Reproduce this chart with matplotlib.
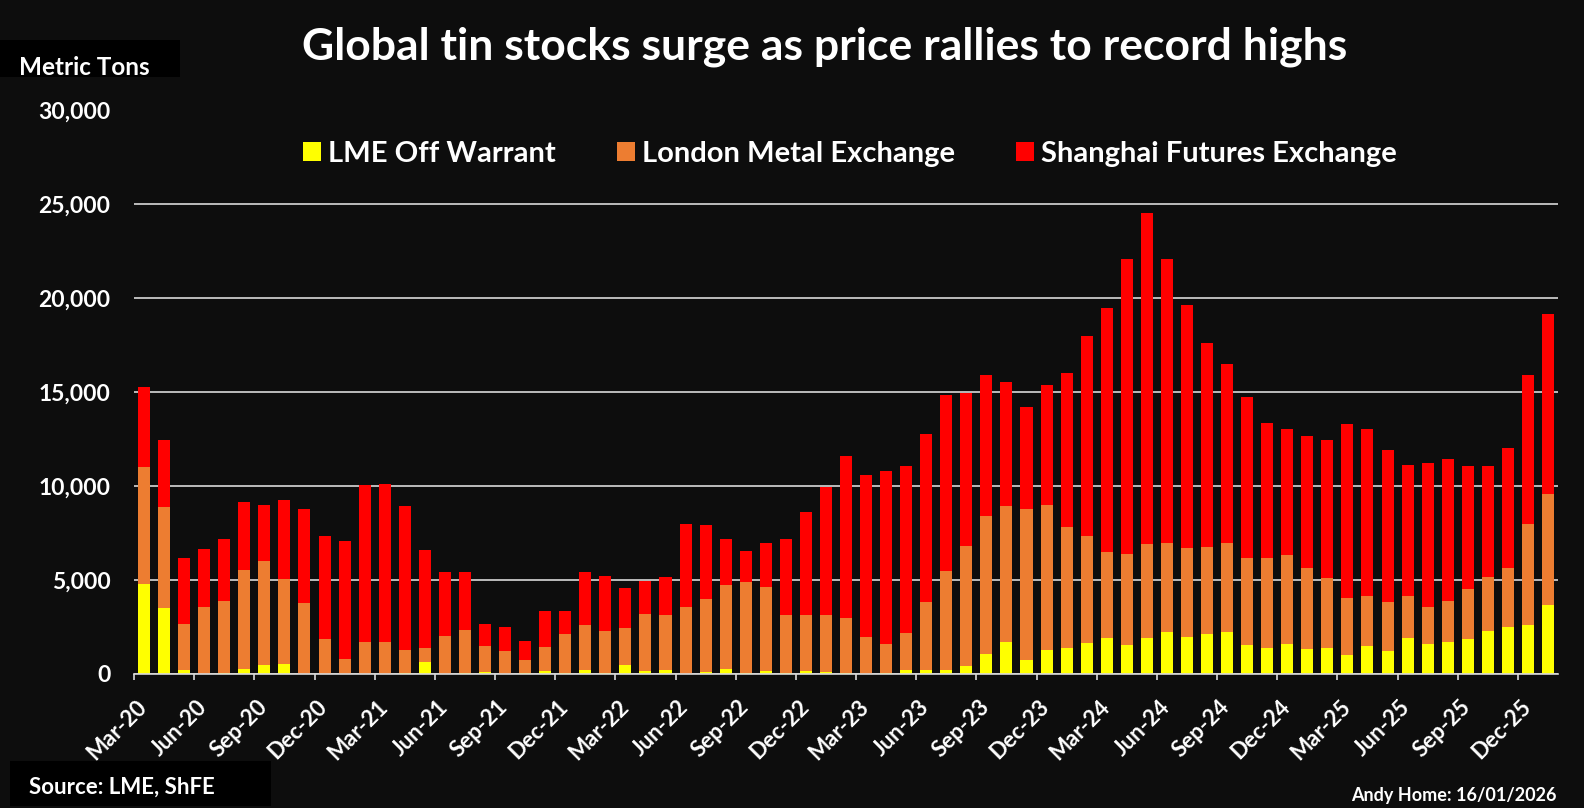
import numpy as np
import matplotlib
matplotlib.use("Agg")
import matplotlib.pyplot as plt
from matplotlib.patches import Rectangle
from matplotlib.ticker import FuncFormatter, FixedLocator

# monthly stocks, metric tons, Mar-20 .. Jan-26
months = ["Mar-20", "Apr-20", "May-20", "Jun-20", "Jul-20", "Aug-20", "Sep-20", "Oct-20", "Nov-20", "Dec-20",
          "Jan-21", "Feb-21", "Mar-21", "Apr-21", "May-21", "Jun-21", "Jul-21", "Aug-21", "Sep-21", "Oct-21",
          "Nov-21", "Dec-21", "Jan-22", "Feb-22", "Mar-22", "Apr-22", "May-22", "Jun-22", "Jul-22", "Aug-22",
          "Sep-22", "Oct-22", "Nov-22", "Dec-22", "Jan-23", "Feb-23", "Mar-23", "Apr-23", "May-23", "Jun-23",
          "Jul-23", "Aug-23", "Sep-23", "Oct-23", "Nov-23", "Dec-23", "Jan-24", "Feb-24", "Mar-24", "Apr-24",
          "May-24", "Jun-24", "Jul-24", "Aug-24", "Sep-24", "Oct-24", "Nov-24", "Dec-24", "Jan-25", "Feb-25",
          "Mar-25", "Apr-25", "May-25", "Jun-25", "Jul-25", "Aug-25", "Sep-25", "Oct-25", "Nov-25", "Dec-25",
          "Jan-26"]

lme_off_warrant = [4800, 3510, 210, 0, 50, 270, 480, 530, 0, 0,
                   0, 0, 0, 50, 640, 0, 50, 100, 0, 50,
                   160, 50, 210, 50, 480, 160, 210, 0, 100, 270,
                   50, 160, 50, 160, 100, 50, 0, 50, 210, 210,
                   210, 430, 1060, 1700, 740, 1280, 1380, 1650, 1910, 1540,
                   1910, 2230, 1970, 2130, 2230, 1540, 1380, 1600, 1330, 1380,
                   1010, 1490, 1220, 1910, 1600, 1700, 1860, 2290, 2500, 2610,
                   3670]

lme = [6200, 5390, 2450, 3560, 3830, 5260, 5530, 4520, 3780, 1860,
       800, 1700, 1700, 1230, 740, 2020, 2290, 1390, 1220, 690,
       1280, 2080, 2400, 2240, 1970, 3030, 2930, 3560, 3890, 4460,
       4840, 4470, 3090, 2980, 3040, 2930, 1970, 1550, 1970, 3620,
       5270, 6380, 7340, 7240, 8040, 7710, 6440, 5690, 4580, 4840,
       5000, 4740, 4730, 4630, 4740, 4630, 4790, 4730, 4310, 3730,
       3030, 2660, 2610, 2240, 1960, 2180, 2660, 2870, 3140, 5370,
       5900]

shfe = [4270, 3550, 3510, 3090, 3300, 3620, 2980, 4210, 5000, 5480,
        6270, 8350, 8410, 7660, 5220, 3410, 3090, 1170, 1280, 1020,
        1910, 1220, 2820, 2920, 2120, 1760, 2020, 4420, 3940, 2450,
        1650, 2340, 4040, 5480, 6810, 8620, 8620, 9200, 8880, 8940,
        9360, 8140, 7500, 6590, 5420, 6380, 8190, 10640, 12980, 15690,
        17640, 15150, 12960, 10840, 9510, 8560, 7180, 6700, 7020, 7340,
        9260, 8880, 8080, 6970, 7660, 7560, 6540, 5900, 6380, 7960,
        9580]

series_names = ["LME Off Warrant", "London Metal Exchange", "Shanghai Futures Exchange"]
colors = ["#ffff00", "#ed7d31", "#ff0000"]

bg = "#0d0d0d"
grid_c = "#d9d9d9"
W, H = 1584, 808

plt.rcParams["font.family"] = ["Lato", "DejaVu Sans"]
plt.rcParams["font.weight"] = "bold"

fig = plt.figure(figsize=(W / 100, H / 100), dpi=100, facecolor=bg)
ax = fig.add_axes([134 / W, (H - 674) / H, 1424 / W, (674 - 110.5) / H])
ax.set_facecolor(bg)

x = np.arange(len(months))
y1 = np.array(lme_off_warrant)
y2 = np.array(lme)
y3 = np.array(shfe)
bw = 0.6
ax.bar(x, y1, bw, color=colors[0], label=series_names[0], zorder=3)
ax.bar(x, y2, bw, bottom=y1, color=colors[1], label=series_names[1], zorder=3)
ax.bar(x, y3, bw, bottom=y1 + y2, color=colors[2], label=series_names[2], zorder=3)

ax.set_xlim(-0.5, len(months) - 0.5)
ax.set_ylim(0, 30000)
ax.set_yticks(np.arange(0, 30001, 5000))
ax.yaxis.set_major_formatter(FuncFormatter(lambda v, p: f"{int(v):,}"))
ax.grid(axis="y", color=grid_c, linewidth=1.2, zorder=0)
ax.set_axisbelow(True)

for s in ["top", "right", "left"]:
    ax.spines[s].set_visible(False)
ax.spines["bottom"].set_color(grid_c)
ax.spines["bottom"].set_linewidth(1.2)
ax.spines["bottom"].set_zorder(4)

lab_pos = x[::3]
lab_txt = [months[i] for i in lab_pos]


def month_ticks(pos, pad):
    ax.set_xticks(pos, lab_txt, rotation=45, ha="right", va="top", rotation_mode="anchor",
                  fontsize=16, fontweight="bold", color="white")
    ax.tick_params(axis="x", which="major", length=0, pad=pad)


month_ticks(lab_pos, 17)
ax.xaxis.set_minor_locator(FixedLocator(np.arange(-0.5, len(months), 3)))
ax.tick_params(axis="x", which="minor", length=4.5, width=1.2, color=grid_c)
ax.tick_params(axis="y", length=0, pad=17, labelsize=16.5, labelcolor="white")
for lbl in ax.get_yticklabels():
    lbl.set_fontweight("bold")

# line the rotated labels up with the reference (top ~696px, right end ~151px for Mar-20)
fig.canvas.draw()
bb = ax.get_xticklabels()[0].get_window_extent()
dy = bb.y1 - (H - 696)
dx = 151 - bb.x1
px_per_cat = ax.get_window_extent().width / len(months)
month_ticks(lab_pos + dx / px_per_cat, 17 + dy * 72 / fig.dpi)

# title and notes
fig.text(825 / W, 1 - 59.3 / H, "Global tin stocks surge as price rallies to record highs",
         ha="center", va="baseline", fontsize=32, fontweight="bold", color="white")

fig.patches.append(Rectangle((0, 1 - 76.7 / H), 180 / W, 36.7 / H, transform=fig.transFigure,
                             facecolor="black", edgecolor="none"))
fig.text(19 / W, 1 - 75 / H, "Metric Tons", ha="left", va="baseline",
         fontsize=17.5, fontweight="bold", color="white")

fig.patches.append(Rectangle((10 / W, 1 - 806 / H), 261 / W, 45 / H, transform=fig.transFigure,
                             facecolor="black", edgecolor="none"))
fig.text(29 / W, 1 - 794 / H, "Source: LME, ShFE", ha="left", va="baseline",
         fontsize=16, fontweight="bold", color="white")

fig.text(1557 / W, 1 - 801.5 / H, "Andy Home: 16/01/2026", ha="right", va="baseline",
         fontsize=13, fontweight="bold", color="white")

leg = ax.legend(loc="center", bbox_to_anchor=(850 / W, 1 - 154 / H), bbox_transform=fig.transFigure,
                ncol=3, frameon=False, fontsize=21, handlelength=0.6, handleheight=0.6,
                handletextpad=0.25, columnspacing=2.1)
for t in leg.get_texts():
    t.set_color("white")
    t.set_fontweight("bold")

fig.savefig("out.png", dpi=100, facecolor=bg)
